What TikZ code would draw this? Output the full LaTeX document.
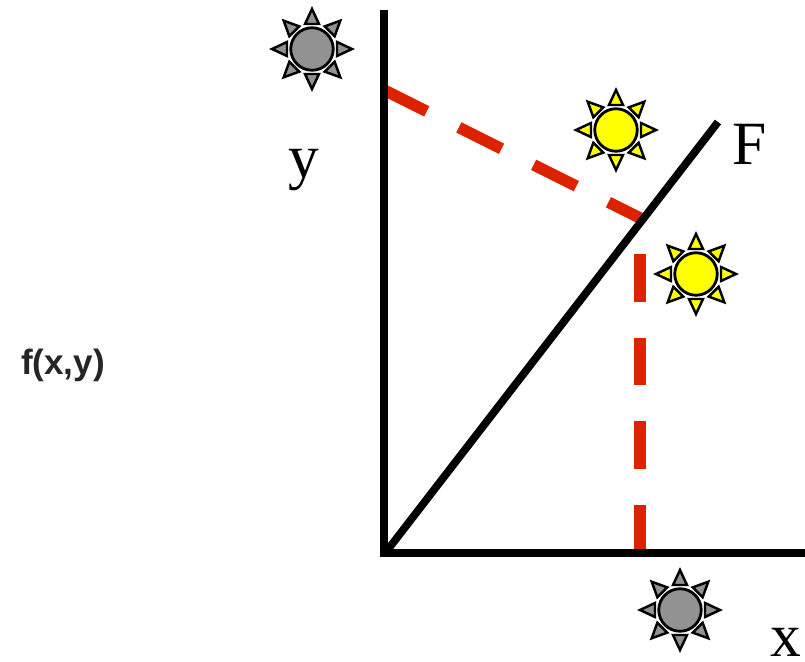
\documentclass[tikz,border=0pt]{standalone}
\usepackage{fontspec}
\setmainfont{Liberation Serif}
\newfontfamily\labelsans{Liberation Sans}
\definecolor{dashred}{RGB}{221,34,0}
\definecolor{sungrey}{RGB}{146,146,146}
\definecolor{sunyellow}{RGB}{255,255,0}
\newcommand{\sunrays}[2]{%
\foreach \a in {0,45,...,315} {
\begin{scope}[shift={(#1.center)},rotate=\a]
\draw[ray,fill=#2] (25,-7) -- (40,0) -- (25,7) -- cycle;
\end{scope}
}}
\begin{document}
\begin{tikzpicture}[x=0.02cm,y=-0.02cm]

\tikzstyle{axis} = [line width=4.4pt,black];
\tikzstyle{guide} = [line width=6.6pt,dashred,dash pattern=on 27.2pt off 20.4pt];
\tikzstyle{ray} = [line width=1.4pt,draw=black,miter limit=10];
\tikzstyle{disc} = [circle,draw=black,line width=1.6pt,minimum size=0.85cm,inner sep=0pt];
\tikzstyle{lab} = [inner sep=0pt,font=\fontsize{35}{35}\selectfont];

\useasboundingbox (0,0) rectangle (805,662);

\coordinate (ybase) at (384,557);
\coordinate (ytop) at (384,10);
\coordinate (xbase) at (383,553);
\coordinate (xend) at (805,553);
\coordinate (fbase) at (386,552);
\coordinate (fend) at (718,122);
\coordinate (yfoot) at (384,90);
\coordinate (meet) at (642,219);
\coordinate (vtop) at (640,254);
\coordinate (vfoot) at (640,553);

\draw[guide] (yfoot) -- (meet);
\draw[guide] (vtop) -- (vfoot);

\draw[axis] (ytop) -- (ybase);
\draw[axis] (xbase) -- (xend);
\draw[axis] (fbase) -- (fend);

\node[disc,fill=sungrey] at (312,49) (s1) {};
\sunrays{s1}{sungrey}
\node[disc,fill=sunyellow] at (616,130) (s2) {};
\sunrays{s2}{sunyellow}
\node[disc,fill=sunyellow] at (696,274) (s3) {};
\sunrays{s3}{sunyellow}
\node[disc,fill=sungrey] at (680,610) (s4) {};
\sunrays{s4}{sungrey}

\node[lab] at (304,170) (ly) {y};
\node[lab] at (750,144) (lf) {F};
\node[lab] at (786,642) (lx) {x};
\node[inner sep=0pt,font=\labelsans\bfseries\fontsize{20}{20}\selectfont,black!85] at (63,365) (lfxy) {f(x,y)};

\end{tikzpicture}
\end{document}
